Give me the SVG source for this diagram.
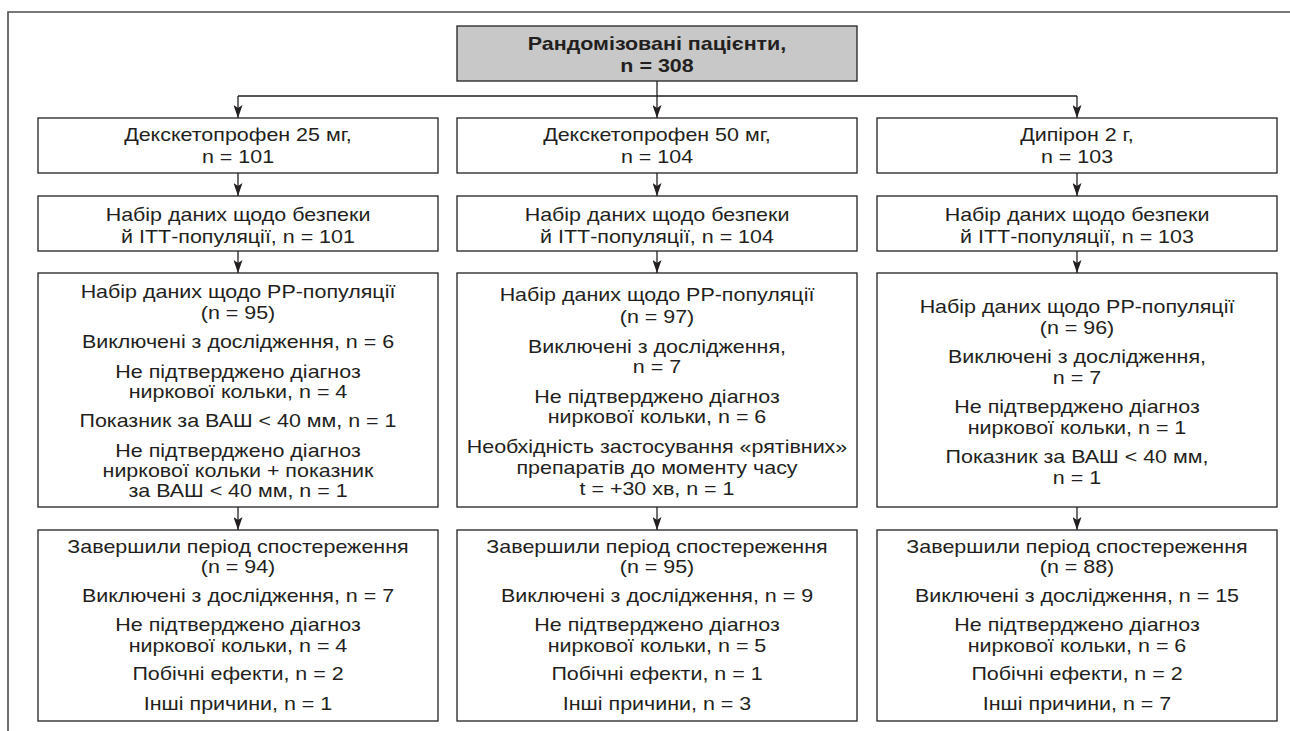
<svg xmlns="http://www.w3.org/2000/svg" width="1290" height="731" viewBox="0 0 1290 731">
<style>
.t{font-family:"Liberation Sans",Arial,Helvetica,sans-serif;font-size:18.5px;fill:#231f20;text-anchor:middle}
.b{font-weight:bold}
.box{fill:#ffffff;stroke:#231f20;stroke-width:1.3}
.top{fill:#c8c8c8;stroke:#231f20;stroke-width:1.3}
.ln{fill:none;stroke:#231f20;stroke-width:1.3}
</style>
<defs>
<marker id="ah" markerUnits="userSpaceOnUse" viewBox="0 0 13 9" refX="13" refY="4.5" markerWidth="13" markerHeight="9" orient="auto">
<path d="M0,0 L13,4.5 L0,9 L3,4.5 Z" fill="#231f20"/>
</marker>
</defs>
<rect width="1290" height="731" fill="#ffffff"/>
<path d="M8,731 V12 H1290" fill="none" stroke="#4d4d4d" stroke-width="1.6"/>

<g id="connectors">
<path class="ln" d="M657,81 V96"/>
<path class="ln" d="M238,96 H1077"/>
<path class="ln" d="M238,96 V118" marker-end="url(#ah)"/>
<path class="ln" d="M657,96 V118" marker-end="url(#ah)"/>
<path class="ln" d="M1077,96 V118" marker-end="url(#ah)"/>
<path class="ln" d="M238,173 V196" marker-end="url(#ah)"/>
<path class="ln" d="M657,173 V196" marker-end="url(#ah)"/>
<path class="ln" d="M1077,173 V196" marker-end="url(#ah)"/>
<path class="ln" d="M238,251 V273" marker-end="url(#ah)"/>
<path class="ln" d="M657,251 V273" marker-end="url(#ah)"/>
<path class="ln" d="M1077,251 V273" marker-end="url(#ah)"/>
<path class="ln" d="M238,507 V530" marker-end="url(#ah)"/>
<path class="ln" d="M657,507 V530" marker-end="url(#ah)"/>
<path class="ln" d="M1077,507 V530" marker-end="url(#ah)"/>
</g>

<g id="randomized">
<rect class="top" x="457" y="26" width="400" height="55"/>
<g transform="translate(657,0) scale(1.16,1)">
<text class="t b" x="0" y="50">Рандомізовані пацієнти,</text>
<text class="t b" x="0" y="72.5">n = 308</text>
</g>
</g>

<g id="dex25">
<rect class="box" x="38" y="118" width="400" height="55"/>
<g transform="translate(238,0) scale(1.16,1)">
<text class="t" x="0" y="140.7">Декскетопрофен 25 мг,</text>
<text class="t" x="0" y="163">n = 101</text>
</g>
</g>
<g id="dex50">
<rect class="box" x="457" y="118" width="400" height="55"/>
<g transform="translate(657,0) scale(1.16,1)">
<text class="t" x="0" y="140.7">Декскетопрофен 50 мг,</text>
<text class="t" x="0" y="163">n = 104</text>
</g>
</g>
<g id="dipyrone">
<rect class="box" x="877" y="118" width="400" height="55"/>
<g transform="translate(1077,0) scale(1.16,1)">
<text class="t" x="0" y="140.7">Дипірон 2 г,</text>
<text class="t" x="0" y="163">n = 103</text>
</g>
</g>

<g id="itt1">
<rect class="box" x="38" y="196" width="400" height="55"/>
<g transform="translate(238,0) scale(1.16,1)">
<text class="t" x="0" y="220.7">Набір даних щодо безпеки</text>
<text class="t" x="0" y="243">й ІТТ-популяції, n = 101</text>
</g>
</g>
<g id="itt2">
<rect class="box" x="457" y="196" width="400" height="55"/>
<g transform="translate(657,0) scale(1.16,1)">
<text class="t" x="0" y="220.7">Набір даних щодо безпеки</text>
<text class="t" x="0" y="243">й ІТТ-популяції, n = 104</text>
</g>
</g>
<g id="itt3">
<rect class="box" x="877" y="196" width="400" height="55"/>
<g transform="translate(1077,0) scale(1.16,1)">
<text class="t" x="0" y="220.7">Набір даних щодо безпеки</text>
<text class="t" x="0" y="243">й ІТТ-популяції, n = 103</text>
</g>
</g>

<g id="pp1">
<rect class="box" x="38" y="273" width="400" height="234"/>
<g transform="translate(238,0) scale(1.16,1)">
<text class="t" x="0" y="298.3">Набір даних щодо PP-популяції</text>
<text class="t" x="0" y="319.3">(n = 95)</text>
<text class="t" x="0" y="347.7">Виключені з дослідження, n = 6</text>
<text class="t" x="0" y="377.7">Не підтверджено діагноз</text>
<text class="t" x="0" y="398">ниркової кольки, n = 4</text>
<text class="t" x="0" y="427.3">Показник за ВАШ &lt; 40 мм, n = 1</text>
<text class="t" x="0" y="456.7">Не підтверджено діагноз</text>
<text class="t" x="0" y="476.7">ниркової кольки + показник</text>
<text class="t" x="0" y="497">за ВАШ &lt; 40 мм, n = 1</text>
</g>
</g>
<g id="pp2">
<rect class="box" x="457" y="273" width="400" height="234"/>
<g transform="translate(657,0) scale(1.16,1)">
<text class="t" x="0" y="300.7">Набір даних щодо PP-популяції</text>
<text class="t" x="0" y="322.7">(n = 97)</text>
<text class="t" x="0" y="352.7">Виключені з дослідження,</text>
<text class="t" x="0" y="373.3">n = 7</text>
<text class="t" x="0" y="402.7">Не підтверджено діагноз</text>
<text class="t" x="0" y="423.3">ниркової кольки, n = 6</text>
<text class="t" x="0" y="452.7">Необхідність застосування «рятівних»</text>
<text class="t" x="0" y="474">препаратів до моменту часу</text>
<text class="t" x="0" y="495">t = +30 хв, n = 1</text>
</g>
</g>
<g id="pp3">
<rect class="box" x="877" y="273" width="400" height="234"/>
<g transform="translate(1077,0) scale(1.16,1)">
<text class="t" x="0" y="312.7">Набір даних щодо PP-популяції</text>
<text class="t" x="0" y="334">(n = 96)</text>
<text class="t" x="0" y="363.3">Виключені з дослідження,</text>
<text class="t" x="0" y="384">n = 7</text>
<text class="t" x="0" y="413.3">Не підтверджено діагноз</text>
<text class="t" x="0" y="434">ниркової кольки, n = 1</text>
<text class="t" x="0" y="463.3">Показник за ВАШ &lt; 40 мм,</text>
<text class="t" x="0" y="484">n = 1</text>
</g>
</g>

<g id="done1">
<rect class="box" x="38" y="530" width="400" height="191"/>
<g transform="translate(238,0) scale(1.16,1)">
<text class="t" x="0" y="552.7">Завершили період спостереження</text>
<text class="t" x="0" y="573.3">(n = 94)</text>
<text class="t" x="0" y="601.7">Виключені з дослідження, n = 7</text>
<text class="t" x="0" y="630.7">Не підтверджено діагноз</text>
<text class="t" x="0" y="651.7">ниркової кольки, n = 4</text>
<text class="t" x="0" y="680">Побічні ефекти, n = 2</text>
<text class="t" x="0" y="710">Інші причини, n = 1</text>
</g>
</g>
<g id="done2">
<rect class="box" x="457" y="530" width="400" height="191"/>
<g transform="translate(657,0) scale(1.16,1)">
<text class="t" x="0" y="552.7">Завершили період спостереження</text>
<text class="t" x="0" y="573.3">(n = 95)</text>
<text class="t" x="0" y="601.7">Виключені з дослідження, n = 9</text>
<text class="t" x="0" y="630.7">Не підтверджено діагноз</text>
<text class="t" x="0" y="651.7">ниркової кольки, n = 5</text>
<text class="t" x="0" y="680">Побічні ефекти, n = 1</text>
<text class="t" x="0" y="710">Інші причини, n = 3</text>
</g>
</g>
<g id="done3">
<rect class="box" x="877" y="530" width="400" height="191"/>
<g transform="translate(1077,0) scale(1.16,1)">
<text class="t" x="0" y="552.7">Завершили період спостереження</text>
<text class="t" x="0" y="573.3">(n = 88)</text>
<text class="t" x="0" y="601.7">Виключені з дослідження, n = 15</text>
<text class="t" x="0" y="630.7">Не підтверджено діагноз</text>
<text class="t" x="0" y="651.7">ниркової кольки, n = 6</text>
<text class="t" x="0" y="680">Побічні ефекти, n = 2</text>
<text class="t" x="0" y="710">Інші причини, n = 7</text>
</g>
</g>
</svg>
